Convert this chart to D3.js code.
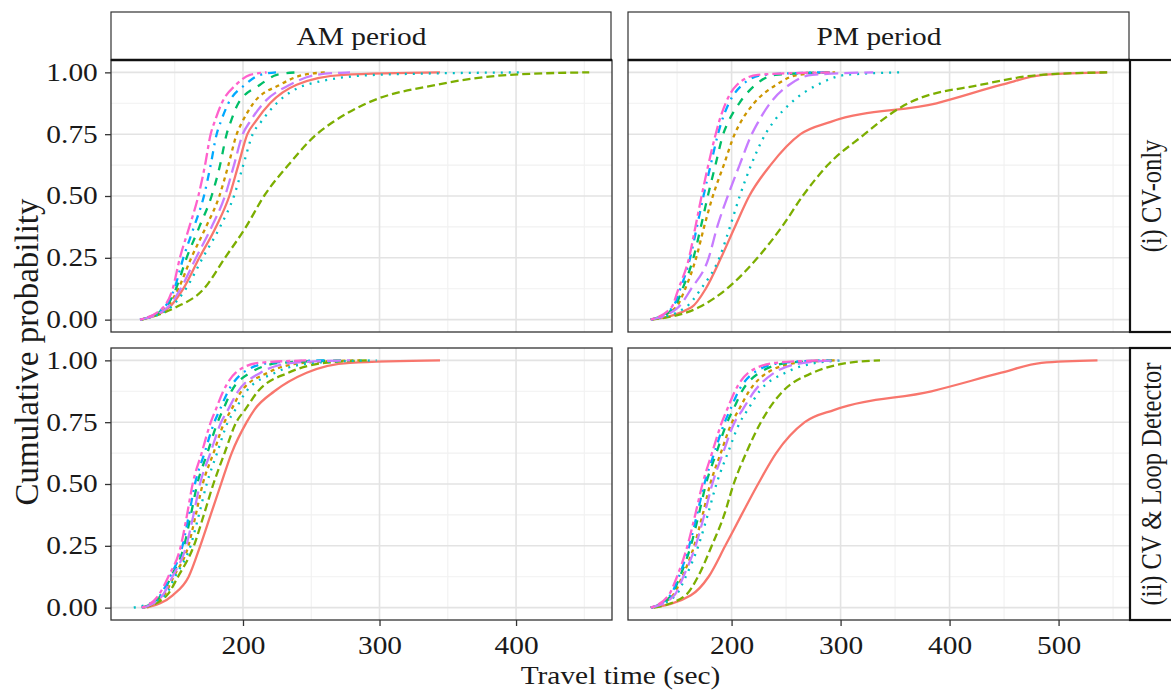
<!DOCTYPE html>
<html>
<head>
<meta charset="utf-8">
<script src="https://cdn.jsdelivr.net/npm/d3@7"></script>
<style>
  body { margin: 0; background: #ffffff; }
  svg { display: block; }
  text { font-family: "Liberation Serif", "Times New Roman", serif; fill: #1a1a1a; }
</style>
</head>
<body>
<svg id="chart" width="1171" height="692"></svg>
<script>
// Cumulative probability levels at which each series' travel time is given (sec)
const probLevels = [0, 0.05, 0.125, 0.25, 0.375, 0.5, 0.625, 0.75, 0.8, 0.875, 0.95, 0.99, 1];

// Series styling, in drawing order (ggplot hue palette + default linetype sequence)
const seriesColors = ["#F8766D", "#CD9600", "#7CAE00", "#00BE67", "#00BFC4", "#00A9FF", "#C77CFF", "#FF61CC"];
const seriesLty    = ["solid", "22", "42", "44", "13", "1343", "73", "2262"];

const periods = ["AM period", "PM period"];
const sources = ["(i) CV-only", "(ii) CV & Loop Detector"];
const yTicks = [0, 0.25, 0.5, 0.75, 1];
const yTickLabels = ["0.00", "0.25", "0.50", "0.75", "1.00"];
const amXTicks = [200, 300, 400];
const pmXTicks = [200, 300, 400, 500];

// Travel time (sec) at each probability level; one row per series
const amCvOnly = [
  [125.0, 146.0, 156.3, 168.0, 180.2, 190.0, 196.6, 203.2, 209.0, 219.8, 239.3, 273.5, 344.3],
  [125.0, 144.1, 152.6, 162.1, 172.9, 182.7, 189.3, 195.4, 199.5, 207.6, 227.1, 244.2, 261.3],
  [125.8, 150.9, 171.4, 186.8, 202.2, 215.4, 233.2, 254.0, 266.2, 290.6, 341.9, 395.6, 453.6],
  [125.0, 143.1, 150.9, 158.7, 168.0, 177.0, 183.2, 188.0, 191.0, 196.6, 212.5, 224.7, 239.3],
  [125.0, 147.0, 158.2, 170.5, 183.2, 193.4, 200.2, 207.1, 213.2, 224.7, 246.6, 297.9, 405.0],
  [124.5, 142.4, 149.7, 156.3, 164.1, 171.4, 176.3, 180.7, 183.7, 189.3, 201.5, 212.5, 224.7],
  [125.0, 144.8, 154.3, 165.6, 177.0, 186.8, 193.4, 199.8, 205.0, 214.9, 234.4, 254.0, 278.4],
  [124.5, 141.6, 148.5, 153.8, 160.7, 167.3, 172.2, 176.3, 179.2, 184.4, 194.9, 205.1, 217.3]
];
const pmCvOnly = [
  [125.9, 163.3, 176.3, 190.3, 203.0, 216.2, 235.7, 263.2, 291.0, 388.0, 448.0, 486.0, 544.6],
  [125.9, 149.0, 157.5, 167.5, 174.8, 182.8, 192.8, 202.8, 208.5, 220.5, 241.0, 261.0, 295.0],
  [125.9, 170.0, 195.7, 223.8, 246.1, 265.2, 288.2, 322.0, 336.0, 362.0, 428.9, 483.6, 544.6],
  [125.9, 147.5, 155.0, 165.0, 171.8, 178.2, 185.2, 192.3, 197.0, 207.0, 222.0, 240.0, 290.0],
  [125.9, 158.0, 172.0, 188.8, 198.5, 207.5, 217.9, 231.0, 238.5, 254.0, 279.0, 305.0, 355.5],
  [125.9, 146.0, 153.0, 162.0, 168.2, 174.2, 180.8, 187.5, 190.8, 197.5, 210.0, 230.0, 285.0],
  [125.9, 151.0, 163.0, 179.0, 186.8, 196.5, 207.3, 218.5, 224.5, 235.3, 253.0, 274.0, 330.0],
  [125.9, 144.9, 151.3, 161.0, 166.8, 172.5, 178.6, 185.4, 188.5, 194.5, 205.0, 224.0, 290.0]
];
const amCvLoop = [
  [129.4, 148.5, 160.2, 168.7, 176.3, 183.9, 191.7, 202.7, 208.3, 223.0, 246.6, 278.4, 344.3],
  [127.0, 142.1, 149.2, 160.0, 165.4, 170.5, 178.4, 186.4, 191.4, 198.8, 218.2, 244.2, 285.7],
  [127.0, 144.3, 152.4, 164.0, 171.3, 178.3, 186.5, 195.1, 201.5, 211.0, 233.2, 259.9, 293.0],
  [125.8, 140.1, 147.3, 156.9, 161.8, 166.5, 173.9, 181.4, 185.4, 191.5, 205.3, 227.9, 273.5],
  [120.0, 143.0, 150.2, 161.6, 167.7, 173.4, 181.0, 188.9, 194.3, 202.5, 223.5, 252.3, 297.9],
  [125.8, 139.4, 146.5, 155.7, 160.4, 164.8, 171.8, 179.0, 183.0, 189.1, 200.0, 219.8, 261.3],
  [127.0, 141.1, 148.3, 158.5, 163.7, 168.5, 176.1, 184.0, 189.0, 196.4, 212.9, 236.8, 278.4],
  [125.8, 138.2, 145.3, 154.5, 159.0, 163.1, 169.7, 176.4, 180.0, 185.5, 194.7, 211.7, 249.1]
];
const pmCvLoop = [
  [125.9, 162.7, 178.9, 194.2, 209.1, 224.3, 240.9, 267.1, 294.4, 383.3, 447.5, 484.4, 535.7],
  [125.9, 146.2, 154.7, 165.7, 173.4, 180.4, 190.1, 200.4, 206.6, 216.0, 232.6, 260.5, 295.0],
  [128.6, 157.8, 169.2, 181.8, 193.2, 201.9, 213.3, 226.9, 233.7, 247.0, 274.6, 307.0, 336.2],
  [125.9, 144.8, 152.5, 162.6, 169.8, 176.5, 186.0, 196.0, 201.4, 209.5, 225.6, 252.2, 292.0],
  [125.9, 148.8, 157.9, 169.5, 178.1, 186.1, 196.5, 207.7, 214.8, 225.6, 249.3, 277.9, 304.0],
  [125.9, 143.8, 151.6, 161.1, 168.2, 175.0, 184.1, 193.7, 198.7, 206.3, 220.5, 246.2, 288.0],
  [125.9, 147.5, 155.7, 167.0, 175.0, 182.3, 192.1, 202.8, 210.0, 220.9, 239.1, 266.3, 298.0],
  [125.9, 142.2, 149.9, 159.5, 166.6, 173.3, 182.0, 191.1, 195.8, 203.0, 215.4, 240.4, 285.0]
];

const panelData = [[amCvOnly, pmCvOnly], [amCvLoop, pmCvLoop]];
const colTicks = [amXTicks, pmXTicks];

// ---- layout ----
const svg = d3.select("#chart");
const colX = [[111, 612], [628, 1130]];
const rowY = [[60, 332], [348, 620]];
const stripTop = 12, stripRightW = 48;
const lineW = 2.3, dashUnit = 2.0;
const stretchX = 1.2;    // glyphs are set wide
const fontSize = 24.5;

function dashArray(lty) {
  if (lty === "solid") return null;
  return lty.split("").map(c => parseInt(c, 16) * dashUnit).join(",");
}

// text placed at (x, y), widened horizontally, optionally rotated
function label(x, y, str, anchor, angle, size = fontSize, sx = stretchX) {
  return svg.append("text")
    .attr("transform", `translate(${x},${y}) scale(${sx},1)` + (angle ? ` rotate(${angle})` : ""))
    .attr("text-anchor", anchor)
    .attr("font-size", size)
    .text(str);
}

// free x scales per column, expanded 5% like ggplot
const xScales = [0, 1].map(c => {
  const all = panelData.flatMap(r => r[c].flat());
  const [lo, hi] = d3.extent(all);
  const pad = (hi - lo) * 0.05;
  return d3.scaleLinear().domain([lo - pad, hi + pad]).range(colX[c]);
});
const yScales = [0, 1].map(r => d3.scaleLinear().domain([-0.05, 1.05]).range([rowY[r][1], rowY[r][0]]));

function minorBreaks(major, domain) {
  const step = major[1] - major[0];
  const out = [];
  for (let v = major[0] - step / 2; v <= domain[1]; v += step) if (v >= domain[0]) out.push(v);
  return out;
}

const defs = svg.append("defs");

for (let r = 0; r < 2; r++) {
  for (let c = 0; c < 2; c++) {
    const x = xScales[c], y = yScales[r];
    const [x0, x1] = colX[c], [y0, y1] = rowY[r];
    const g = svg.append("g");
    const clipId = `clip-${r}-${c}`;
    defs.append("clipPath").attr("id", clipId)
      .append("rect").attr("x", x0).attr("y", y0).attr("width", x1 - x0).attr("height", y1 - y0);

    // grid lines
    const yMinor = [0.125, 0.375, 0.625, 0.875];
    const xMinor = minorBreaks(colTicks[c], x.domain());
    g.selectAll(null).data(yMinor).join("line")
      .attr("x1", x0).attr("x2", x1).attr("y1", d => y(d)).attr("y2", d => y(d))
      .attr("stroke", "#F1F1F1").attr("stroke-width", 1.1);
    g.selectAll(null).data(xMinor).join("line")
      .attr("y1", y0).attr("y2", y1).attr("x1", d => x(d)).attr("x2", d => x(d))
      .attr("stroke", "#F1F1F1").attr("stroke-width", 1.1);
    g.selectAll(null).data(yTicks).join("line")
      .attr("x1", x0).attr("x2", x1).attr("y1", d => y(d)).attr("y2", d => y(d))
      .attr("stroke", "#E3E3E3").attr("stroke-width", 1.6);
    g.selectAll(null).data(colTicks[c]).join("line")
      .attr("y1", y0).attr("y2", y1).attr("x1", d => x(d)).attr("x2", d => x(d))
      .attr("stroke", "#E3E3E3").attr("stroke-width", 1.6);

    // cumulative curves
    const line = d3.line().x(d => x(d[0])).y(d => y(d[1])).curve(d3.curveMonotoneX);
    const series = panelData[r][c];
    g.append("g").attr("clip-path", `url(#${clipId})`)
      .selectAll("path").data(series).join("path")
      .attr("d", s => line(s.map((t, i) => [t, probLevels[i]])))
      .attr("fill", "none")
      .attr("stroke", (s, i) => seriesColors[i])
      .attr("stroke-width", lineW)
      .attr("stroke-dasharray", (s, i) => dashArray(seriesLty[i]));

    // panel border
    g.append("rect").attr("x", x0).attr("y", y0).attr("width", x1 - x0).attr("height", y1 - y0)
      .attr("fill", "none").attr("stroke", "#333333").attr("stroke-width", 1.3);

    // axes
    if (c === 0) {
      const ax = svg.append("g").attr("transform", `translate(${x0},0)`)
        .call(d3.axisLeft(y).tickValues(yTicks).tickFormat((d, i) => yTickLabels[i]).tickSize(6).tickPadding(5));
      ax.select(".domain").remove();
      ax.selectAll(".tick line").attr("stroke", "#333333").attr("stroke-width", 1.3);
      ax.selectAll(".tick text").attr("font-size", fontSize).attr("fill", "#1a1a1a")
        .attr("font-family", "Liberation Serif, serif").attr("transform", `scale(${stretchX},1)`);
    }
    if (r === 1) {
      const ax = svg.append("g").attr("transform", `translate(0,${y1})`)
        .call(d3.axisBottom(x).tickValues(colTicks[c]).tickSize(6).tickPadding(11).tickFormat(d3.format("d")));
      ax.select(".domain").remove();
      ax.selectAll(".tick line").attr("stroke", "#333333").attr("stroke-width", 1.3);
      ax.selectAll(".tick text").attr("font-size", fontSize).attr("fill", "#1a1a1a")
        .attr("font-family", "Liberation Serif, serif").attr("transform", `scale(${stretchX},1)`);
    }
  }
}

// top strips
for (let c = 0; c < 2; c++) {
  const [x0, x1] = colX[c];
  svg.append("rect").attr("x", x0).attr("y", stripTop).attr("width", x1 - x0 - 1).attr("height", rowY[0][0] - stripTop)
    .attr("fill", "#ffffff").attr("stroke", "#333333").attr("stroke-width", 1.2);
  svg.append("line").attr("x1", x0).attr("x2", x1).attr("y1", rowY[0][0]).attr("y2", rowY[0][0])
    .attr("stroke", "#111111").attr("stroke-width", 2.4);
  label((x0 + x1) / 2, 44.5, periods[c], "middle");
}
// right strips
for (let r = 0; r < 2; r++) {
  const [y0, y1] = rowY[r];
  const sx = colX[1][1];
  svg.append("rect").attr("x", sx).attr("y", y0).attr("width", stripRightW).attr("height", y1 - y0)
    .attr("fill", "#ffffff").attr("stroke", "#111111").attr("stroke-width", 2.2);
  label(sx + 31, (y0 + y1) / 2, sources[r], "middle", -90);
}

// axis titles
label((colX[0][0] + colX[1][1]) / 2, 684, "Travel time (sec)", "middle");
label(38, 352, "Cumulative probability", "middle", -90, 33, 1.0);
</script>
</body>
</html>
